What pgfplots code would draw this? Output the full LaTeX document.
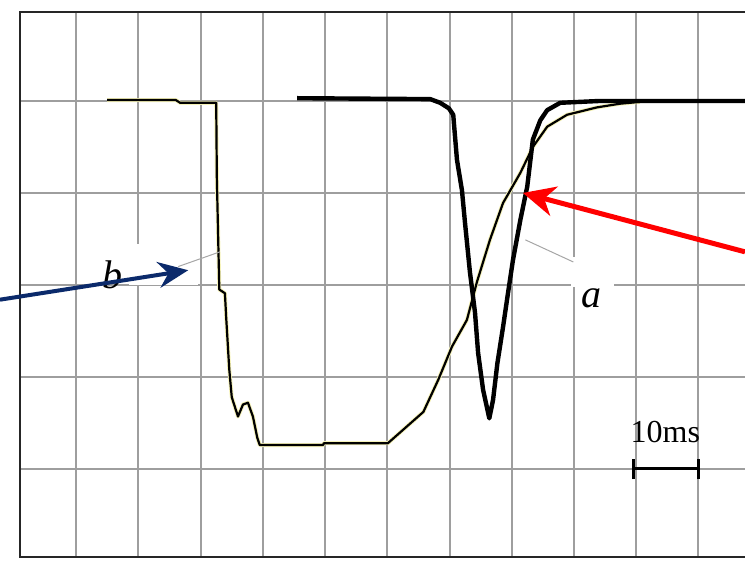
\documentclass[border=0pt]{standalone}
\usepackage{pgfplots}
\pgfplotsset{compat=1.18}
\usetikzlibrary{arrows.meta}
\usepackage{fontspec}
\setmainfont{Liberation Serif}
\definecolor{navyarrow}{HTML}{0B2A6B}
\definecolor{paleyellow}{HTML}{F6F3B8}
\begin{document}
\begin{tikzpicture}
\useasboundingbox (-10pt,-2pt) rectangle (362.5pt,278.5pt);
\begin{axis}[at={(0pt,0pt)}, anchor=south west, scale only axis,
  width=362.5pt, height=272.5pt,
  xmin=0.96, xmax=117.5, ymin=0.043, ymax=5.967,
  xtick={10,20,...,110}, ytick={1,2,3,4,5},
  xticklabels={}, yticklabels={}, major tick length=0pt,
  grid=major, grid style={line width=1pt, color=black!38},
  axis line style={draw=none}, clip=false]
% white patches behind the labels
\fill[white] (axis cs:18.5,3.00) rectangle (axis cs:29.5,3.44);
\fill[white] (axis cs:89.5,2.98) rectangle (axis cs:96.5,3.30);
% frame (top, left, bottom)
\draw[line width=1.1pt, black!85] (rel axis cs:1,1) -- (rel axis cs:0,1) -- (rel axis cs:0,0) -- (rel axis cs:1,0);
% curve b
\addplot[paleyellow, line width=2.0pt, line join=round] coordinates {
(14.95,5.01) (26.0,5.01) (26.7,4.98) (32.5,4.98) (32.6,4.17) (33.0,2.95) (33.9,2.91)
(34.1,2.65) (34.6,2.08) (35.0,1.78) (36.0,1.57) (36.8,1.70) (37.6,1.72) (38.4,1.57)
(39.1,1.34) (39.5,1.26) (49.7,1.26) (49.8,1.28) (60.1,1.28) (65.8,1.62) (68.2,1.97)
(70.4,2.33) (72.8,2.62) (74.4,3.03) (76.5,3.49) (78.6,3.89) (81.4,4.22) (83.4,4.50)
(85.7,4.72) (88.9,4.85) (93.7,4.93) (97.4,4.97) (100.6,4.99)};
\addplot[black, line width=1.1pt, line join=round] coordinates {
(14.95,5.01) (26.0,5.01) (26.7,4.98) (32.5,4.98) (32.6,4.17) (33.0,2.95) (33.9,2.91)
(34.1,2.65) (34.6,2.08) (35.0,1.78) (36.0,1.57) (36.8,1.70) (37.6,1.72) (38.4,1.57)
(39.1,1.34) (39.5,1.26) (49.7,1.26) (49.8,1.28) (60.1,1.28) (65.8,1.62) (68.2,1.97)
(70.4,2.33) (72.8,2.62) (74.4,3.03) (76.5,3.49) (78.6,3.89) (81.4,4.22) (83.4,4.50)
(85.7,4.72) (88.9,4.85) (93.7,4.93) (97.4,4.97) (100.6,4.99)};
% curve a
\addplot[black, line width=2.2pt, line join=round] coordinates {
(45.5,5.03) (66.9,5.02) (68.5,4.98) (69.9,4.92) (70.6,4.85) (71.2,4.36) (72.0,4.03)
(72.5,3.67) (73.3,3.13) (74.1,2.70) (74.6,2.26) (75.4,1.86) (76.4,1.55) (77.0,1.75)
(77.7,2.15) (78.6,2.54) (79.4,2.91) (80.2,3.27) (81.4,3.71) (82.5,4.07) (83.4,4.58)
(84.6,4.79) (85.7,4.90) (87.8,4.98) (94.2,5.00) (117.5,5.00)};
% leader lines
\draw[black!35, line width=0.5pt] (axis cs:26.4,3.20) -- (axis cs:33.1,3.36);
\draw[black!35, line width=0.5pt] (axis cs:82.2,3.49) -- (axis cs:89.9,3.25);
% labels
\node[font=\fontsize{20}{24}\selectfont\itshape] at (axis cs:15.8,3.11) {b};
\node[font=\fontsize{20}{24}\selectfont\itshape] at (axis cs:92.9,2.86) {a};
\node[font=\fontsize{16}{19}\selectfont] at (axis cs:104.7,1.40) {10ms};
% scale bar
\draw[line width=1.5pt] (axis cs:99.5,1.0) -- (axis cs:110,1.0);
\draw[line width=1.5pt] (axis cs:99.5,0.89) -- (axis cs:99.5,1.11);
\draw[line width=1.5pt] (axis cs:110,0.89) -- (axis cs:110,1.11);
% arrows
\draw[navyarrow, line width=2pt, -{Stealth[length=15pt,width=13pt,inset=5pt]}] (axis cs:-2.25,2.84) -- (axis cs:28.0,3.16);
\draw[red, line width=2.5pt, -{Stealth[length=16pt,width=15pt,inset=5pt]}] (axis cs:117.5,3.36) -- (axis cs:81.8,4.0);
\end{axis}
\end{tikzpicture}
\end{document}
